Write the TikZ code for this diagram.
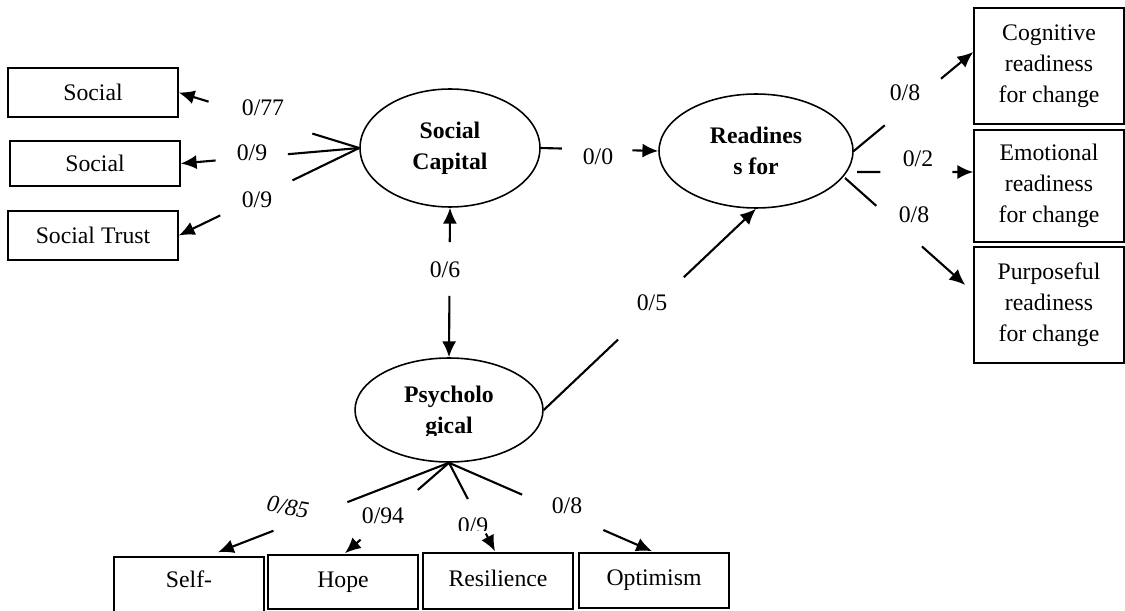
\documentclass[tikz,border=0pt]{standalone}
\usepackage{fontspec}
\setmainfont{Liberation Serif}
\usetikzlibrary{arrows.meta,calc,shapes.geometric}
\begin{document}
\begin{tikzpicture}[x=0.02cm,y=-0.02cm,
  font=\fontsize{13.5}{17.6}\selectfont,
  box/.style={draw,line width=0.9pt,inner sep=0pt,align=center},
  bbox/.style={box,minimum width=3cm,text height=9pt,text depth=3pt},
  lat/.style={draw,ellipse,line width=0.9pt,inner sep=0pt,align=center,font=\fontsize{13.5}{17.6}\selectfont\bfseries},
  conn/.style={line width=1.2pt},
  arr/.style={line width=1.2pt,-{Latex[length=9pt,width=8pt]}},
  lbl/.style={inner sep=0pt}]
\useasboundingbox (0,0) rectangle (1125,611);
\clip (0,0) rectangle (1125,611);

% indicator boxes, left
\node[box,minimum width=3.4cm,minimum height=0.98cm] (s1) at (93,92.5) {Social};
\node[box,minimum width=3.4cm,minimum height=0.9cm] (s2) at (95,163.5) {Social};
\node[box,minimum width=3.4cm,minimum height=0.98cm] (st) at (93,235.5) {Social Trust};

% latent variables
\node[lat,minimum width=3.6cm,minimum height=2.36cm] (sc) at (450,148) {Social\\Capital};
\node[lat,minimum width=3.88cm,minimum height=2.28cm] (rd) at (756,151) {Readines\\s for};
\begin{scope}[even odd rule]
  \clip (0,0) rectangle (1125,611) (415,435) rectangle (485,452);
  \node[lat,text depth=0pt,minimum width=3.76cm,minimum height=2.08cm] (psy) at (449,410) {Psycholo\\gical};
\end{scope}

% indicator boxes, right
\node[box,minimum width=3cm,minimum height=2.32cm] (cog) at (1049,66) {Cognitive\\readiness\\for change};
\node[box,minimum width=3cm,minimum height=2.24cm] (emo) at (1049,186) {Emotional\\readiness\\for change};
\node[box,minimum width=3cm,minimum height=2.32cm] (pur) at (1049,305) {Purposeful\\readiness\\for change};

% indicator boxes, bottom
\node[bbox,minimum height=1.3cm] (self) at (189,589.5) {\raisebox{3.9pt}[\height][\depth]{Self-}};
\node[bbox,minimum height=1.08cm] (hope) at (343,582) {Hope};
\node[bbox,minimum height=1.12cm] (res) at (498,581) {Resilience};
\node[bbox,minimum height=1.1cm] (opt) at (654,580.5) {Optimism};

% free ends
\coordinate (cogT) at ($(cog.west)+(0,-14)$);
\coordinate (emoS) at (857,172);
\coordinate (emoT) at ($(emo.west)+(0,-14)$);
\coordinate (purS) at ($(rd.center)+(89,27)$);
\coordinate (purT) at ($(pur.west)+(-8,-20)$);
\coordinate (selfT) at ($(self.north)+(29,-4)$);
\coordinate (hopeT) at ($(hope.north)+(2,-1)$);
\coordinate (resT) at ($(res.north)+(-3,-1)$);
\coordinate (optT) at ($(opt.north)+(-2,-1)$);

% Social capital -> indicators
\draw[conn] (sc.west) -- ($(sc.west)!0.26!(s1.east)$);
\draw[arr] ($(sc.west)!0.835!(s1.east)$) -- (s1.east);
\draw[conn] (sc.west) -- ($(sc.west)!0.40!(s2.east)$);
\draw[arr] ($(sc.west)!0.805!(s2.east)$) -- (s2.east);
\draw[conn] (sc.west) -- ($(sc.west)!0.37!(st.east)$);
\draw[arr] ($(sc.west)!0.77!(st.east)$) -- (st.east);

% structural paths
\draw[conn] (sc.east) -- ($(sc.east)!0.18!(rd.west)$);
\draw[arr] ($(sc.east)!0.78!(rd.west)$) -- (rd.west);
\draw[arr] ($(sc.south)!0.23!(psy.north)$) -- (sc.south);
\draw[arr] ($(sc.south)!0.59!(psy.north)$) -- (psy.north);
\draw[conn] (psy.east) -- ($(psy.east)!0.35!(rd.south)$);
\draw[arr] ($(psy.east)!0.66!(rd.south)$) -- (rd.south);

% Readiness -> indicators
\draw[conn] (rd.east) -- ($(rd.east)!0.26!(cogT)$);
\draw[arr] ($(rd.east)!0.73!(cogT)$) -- (cogT);
\draw[conn] (emoS) -- ($(emoS)!0.2!(emoT)$);
\draw[arr] ($(emoS)!0.82!(emoT)$) -- (emoT);
\draw[conn] (purS) -- ($(purS)!0.26!(purT)$);
\draw[arr] ($(purS)!0.64!(purT)$) -- (purT);

% Psychological -> indicators
\draw[conn] (psy.south) -- ($(psy.south)!0.44!(selfT)$);
\draw[arr] ($(psy.south)!0.76!(selfT)$) -- (selfT);
\draw[conn] (psy.south) -- ($(psy.south)!0.30!(hopeT)$);
\draw[arr] ($(psy.south)!0.85!(hopeT)$) -- (hopeT);
\draw[conn] (psy.south) -- ($(psy.south)!0.41!(resT)$);
\draw[arr] ($(psy.south)!0.80!(resT)$) -- (resT);
\draw[conn] (psy.south) -- ($(psy.south)!0.36!(optT)$);
\draw[arr] ($(psy.south)!0.76!(optT)$) -- (optT);

% labels
\node[lbl] (l77) at (263,108) {0/77};
\node[lbl] (l9a) at (252,153) {0/9};
\node[lbl] (l9b) at (257,200) {0/9};
\node[lbl] (l00) at (598,157) {0/0};
\node[lbl] (l06) at (445,270) {0/6};
\node[lbl] (l05) at (652,303) {0/5};
\node[lbl] (l8a) at (905,93) {0/8};
\node[lbl] (l02) at (918,159) {0/2};
\node[lbl] (l8b) at (914,215) {0/8};
\node[lbl,rotate=-10,font=\fontsize{13.5}{17.6}\selectfont\itshape] (l85) at (288,507) {0/85};
\node[lbl] (l94) at (383,516) {0/94};
\begin{scope}
  \clip (440,500) rectangle (500,530);
  \node[lbl] (l9c) at (473,526) {0/9};
\end{scope}
\node[lbl] (l8c) at (567,506) {0/8};
\end{tikzpicture}
\end{document}
